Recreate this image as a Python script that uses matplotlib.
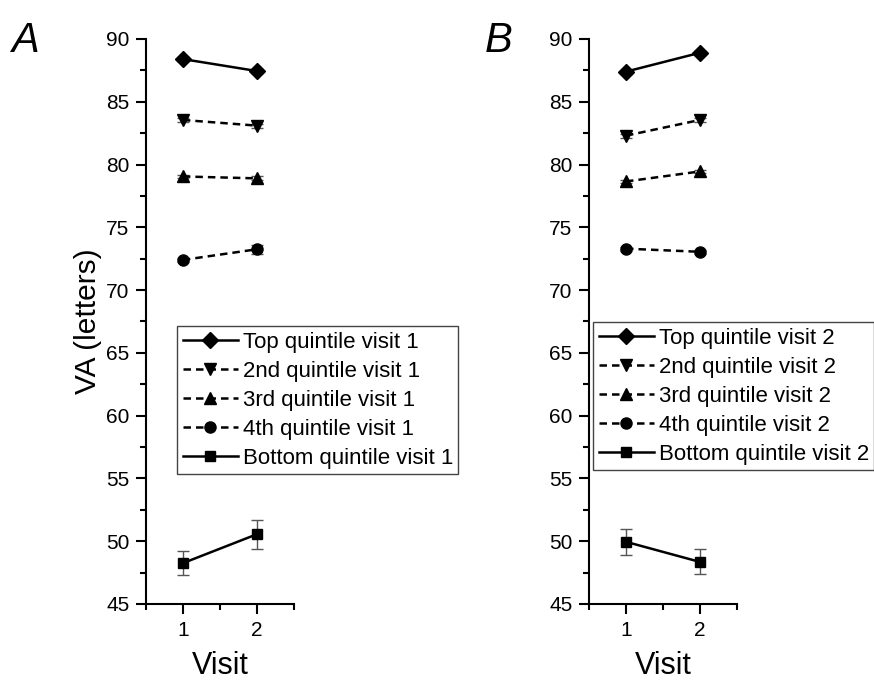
import matplotlib.pyplot as plt
from matplotlib.ticker import MultipleLocator

plt.rcParams['font.family'] = ['Liberation Sans', 'DejaVu Sans']

visits = [1, 2]

# panel A: quintiles defined at visit 1
top_a = [88.4, 87.45]
q2_a = [83.55, 83.1]
q3_a = [79.05, 78.9]
q4_a = [72.4, 73.25]
bot_a = [48.25, 50.55]
err_top_a = [0.15, 0.15]
err_q2_a = [0.15, 0.15]
err_q3_a = [0.15, 0.15]
err_q4_a = [0.15, 0.35]
err_bot_a = [0.95, 1.15]

# panel B: quintiles defined at visit 2
top_b = [87.4, 88.9]
q2_b = [82.3, 83.55]
q3_b = [78.65, 79.45]
q4_b = [73.3, 73.05]
bot_b = [49.95, 48.35]
err_top_b = [0.15, 0.15]
err_q2_b = [0.15, 0.15]
err_q3_b = [0.15, 0.15]
err_q4_b = [0.15, 0.15]
err_bot_b = [1.05, 1.0]

names = ["Top quintile", "2nd quintile", "3rd quintile", "4th quintile", "Bottom quintile"]
markers = ["D", "v", "^", "o", "s"]
msizes = [8.5, 9, 9, 8, 7.5]
styles = ["-", (0, (3, 2)), (0, (3, 2)), (0, (3, 2)), "-"]

fig = plt.figure(figsize=(8.74, 6.84), dpi=100)
ax_a = fig.add_axes([0.167, 0.117, 0.169, 0.826])
ax_b = fig.add_axes([0.674, 0.117, 0.169, 0.826])

panels = [
    (ax_a, [top_a, q2_a, q3_a, q4_a, bot_a],
     [err_top_a, err_q2_a, err_q3_a, err_q4_a, err_bot_a], "1", "A", (0.2025, 0.5234), 0.013),
    (ax_b, [top_b, q2_b, q3_b, q4_b, bot_b],
     [err_top_b, err_q2_b, err_q3_b, err_q4_b, err_bot_b], "2", "B", (0.6785, 0.529), 0.555),
]

for ax, series, errs, vnum, letter, anchor, lx in panels:
    handles = []
    for y, e, name, m, ms, ls in zip(series, errs, names, markers, msizes, styles):
        ax.errorbar(visits, y, yerr=e, fmt="none", ecolor="#555555",
                    elinewidth=1, capsize=4, capthick=1, zorder=2)
        h, = ax.plot(visits, y, color="black", linestyle=ls, linewidth=1.8,
                     marker=m, markersize=ms, zorder=3,
                     label=f"{name} visit {vnum}")
        handles.append(h)

    ax.set_xlim(0.5, 2.5)
    ax.set_ylim(45, 90)
    ax.set_xticks([1, 2])
    ax.xaxis.set_minor_locator(MultipleLocator(0.5))
    ax.yaxis.set_major_locator(MultipleLocator(5))
    ax.yaxis.set_minor_locator(MultipleLocator(2.5))
    ax.tick_params(which="major", direction="out", length=7, width=1.5,
                   labelsize=15, pad=5)
    ax.tick_params(which="minor", direction="out", length=4, width=1.5)
    for side in ["top", "right"]:
        ax.spines[side].set_visible(False)
    for side in ["left", "bottom"]:
        ax.spines[side].set_linewidth(1.5)
    ax.set_xlabel("Visit", fontsize=22, labelpad=8)

    fig.legend(handles=handles, loc="upper left", bbox_to_anchor=anchor,
               fontsize=16, frameon=True, fancybox=False, edgecolor="#444444",
               framealpha=1, handlelength=2.5, handletextpad=0.2,
               borderpad=0.25, labelspacing=0.36, borderaxespad=0)

    fig.text(lx, 0.94, letter, fontsize=30, fontstyle="italic",
             ha="left", va="center")

ax_a.set_ylabel("VA (letters)", fontsize=21.5, labelpad=3)

fig.savefig("out.png", dpi=100)
